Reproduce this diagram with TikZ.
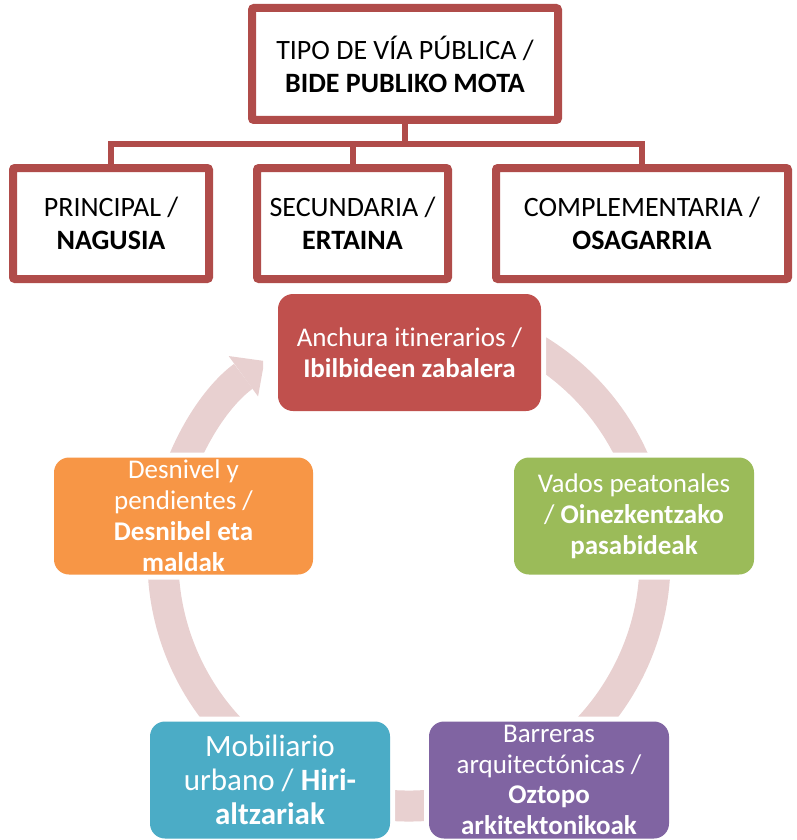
\documentclass[tikz,border=0pt]{standalone}
\usepackage{fontspec}
\setmainfont{Carlito}[Ligatures=NoCommon]
\usepackage{xcolor}
\usetikzlibrary{arrows.meta,positioning}

\definecolor{frame}{HTML}{B04C4A}
\definecolor{ringpink}{HTML}{E8D0D0}
\definecolor{redacc}{HTML}{C0504D}
\definecolor{greenacc}{HTML}{9BBB59}
\definecolor{orangeacc}{HTML}{F79646}
\definecolor{blueacc}{HTML}{4BACC6}
\definecolor{purpleacc}{HTML}{8064A2}

\begin{document}
\begin{tikzpicture}[
  x=1pt, y=1pt,
  node distance=40pt,
  kind/.style={rectangle, draw=frame, line width=8pt, fill=white, rounded corners=2pt, minimum height=111pt, inner sep=0pt, align=center, font=\fontsize{28}{33}\selectfont},
  topic/.style={rectangle, rounded corners=15pt, minimum width=240pt, minimum height=117pt, inner sep=0pt, align=center, text=white, font=\fontsize{27}{31}\selectfont, preaction={draw=white, line width=10pt}},
  link/.style={draw=frame, line width=6pt},
  ring/.style={draw=ringpink, line width=31pt}
]
  \useasboundingbox (0,0) rectangle (796,-840);

  \node[kind, minimum width=306pt, minimum height=112pt] (tipo) at (405,-64) {TIPO DE VÍA PÚBLICA /\\\textbf{BIDE PUBLIKO MOTA}};
  \node[kind, minimum width=196pt] (prin) at (111,-223.5) {PRINCIPAL /\\\textbf{NAGUSIA}};
  \node[kind, minimum width=191pt, right=of prin] (secu) {SECUNDARIA /\\\textbf{ERTAINA}};
  \node[kind, minimum width=292pt, right=of secu] (comp) {COMPLEMENTARIA /\\\textbf{OSAGARRIA}};

  \draw[link] (tipo.south) -- ++(0,-20) -| (prin.north);
  \draw[link] (tipo.south) -- ++(0,-20) -| (secu.north);
  \draw[link] (tipo.south) -- ++(0,-20) -| (comp.north);

  \coordinate (ctr) at (409,-560);
  \draw[ring] ([shift={(60:246pt)}]ctr) arc[start angle=60, end angle=-200, radius=246pt];
  \begin{scope}
    \clip (0,0) rectangle (263,-840);
    \draw[ring, -{Triangle[width=50pt, length=26pt, line width=0pt]}] ([shift={(170:246pt)}]ctr) arc[start angle=170, end angle=126, radius=246pt];
  \end{scope}

  \node[topic, fill=redacc, minimum width=263pt] (anch) at (409.5,-352.5) {Anchura itinerarios /\\\textbf{Ibilbideen zabalera}};
  \node[topic, fill=greenacc] (vado) at (634,-516) {Vados peatonales\\/ \textbf{Oinezkentzako}\\\textbf{pasabideak}};
  \node[topic, fill=orangeacc, minimum width=259pt] (desn) at (183.5,-516) {Desnivel y\\pendientes /\\\textbf{Desnibel eta}\\\textbf{maldak}};
  \node[topic, fill=blueacc, font=\fontsize{31}{34}\selectfont] (mobi) at (270,-780) {Mobiliario\\urbano / \textbf{Hiri-}\\\textbf{altzariak}};
  \node[topic, fill=purpleacc, font=\fontsize{27}{30.5}\selectfont] (barr) at (549,-780) {Barreras\\arquitectónicas /\\\textbf{Oztopo}\\\textbf{arkitektonikoak}};
\end{tikzpicture}
\end{document}
